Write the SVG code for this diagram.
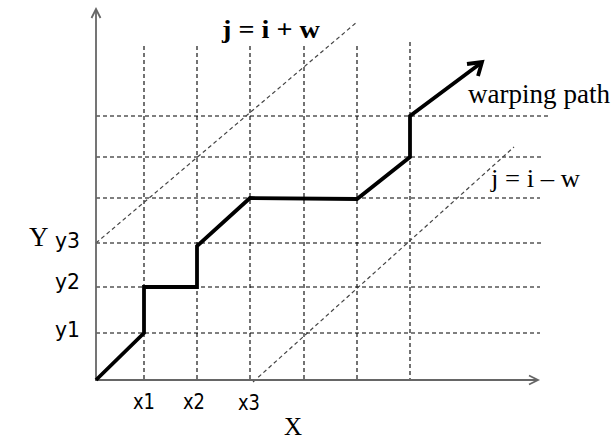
<svg xmlns="http://www.w3.org/2000/svg" width="614" height="439" viewBox="0 0 614 439">
<style>
.grid{stroke:#000;stroke-width:1.1;stroke-dasharray:4 3;fill:none}
.band{stroke:#444;stroke-width:1.2;stroke-dasharray:4 3;fill:none}
.axis{stroke:#666;stroke-width:1.8;fill:none}
.path{stroke:#000;stroke-width:3.8;fill:none;stroke-linejoin:miter}
.serif{font-family:"Liberation Serif","Times New Roman",serif;fill:#000}
.sans{font-family:"DejaVu Sans",Verdana,sans-serif;fill:#000;font-size:21px}
</style>
<rect width="614" height="439" fill="#fff"/>
<g id="grid">
<line class="grid" x1="144" y1="46" x2="144" y2="380"/>
<line class="grid" x1="197" y1="46" x2="197" y2="380"/>
<line class="grid" x1="250" y1="46" x2="250" y2="380"/>
<line class="grid" x1="304" y1="46" x2="304" y2="380"/>
<line class="grid" x1="357" y1="46" x2="357" y2="380"/>
<line class="grid" x1="410" y1="42" x2="410" y2="380"/>
<line class="grid" x1="96" y1="116" x2="549" y2="116"/>
<line class="grid" x1="96" y1="157" x2="544" y2="157"/>
<line class="grid" x1="96" y1="198" x2="540" y2="198"/>
<line class="grid" x1="96" y1="243" x2="541" y2="243"/>
<line class="grid" x1="96" y1="287" x2="540" y2="287"/>
<line class="grid" x1="96" y1="333" x2="540" y2="333"/>
</g>
<g id="bands">
<line class="band" x1="96" y1="243" x2="357" y2="22"/>
<line class="band" x1="253" y1="382" x2="514" y2="147"/>
</g>
<g id="axes">
<line class="axis" x1="96" y1="381" x2="96" y2="9"/>
<polyline class="axis" points="91.5,18 96,9 100.5,18"/>
<line class="axis" x1="95" y1="380" x2="537" y2="380"/>
<polyline class="axis" points="529,375.5 538,380 529,384.5"/>
</g>
<g id="connectors">
<polyline class="path" points="96,380 144,333 144,287 197,287 197,246 250,198 357,199 410,157 410,116 481,63"/>
<polyline class="path" points="467,64 482,62 478,76"/>
</g>
<g id="labels">
<text class="serif" x="222" y="38" font-size="26" font-weight="bold" textLength="98" lengthAdjust="spacingAndGlyphs">j = i + w</text>
<text class="serif" x="468" y="103" font-size="28" textLength="142" lengthAdjust="spacingAndGlyphs">warping path</text>
<text class="serif" x="491" y="187" font-size="25" textLength="89" lengthAdjust="spacingAndGlyphs">j = i – w</text>
<text class="serif" x="29" y="246" font-size="27">Y</text>
<text class="serif" x="284" y="435" font-size="25">X</text>
<text class="sans" x="55" y="248" textLength="25" lengthAdjust="spacingAndGlyphs">y3</text>
<text class="sans" x="55" y="289" textLength="25" lengthAdjust="spacingAndGlyphs">y2</text>
<text class="sans" x="55" y="337" textLength="25" lengthAdjust="spacingAndGlyphs">y1</text>
<text class="sans" x="133" y="409" textLength="22" lengthAdjust="spacingAndGlyphs">x1</text>
<text class="sans" x="183" y="409" textLength="22" lengthAdjust="spacingAndGlyphs">x2</text>
<text class="sans" x="238" y="410" textLength="22" lengthAdjust="spacingAndGlyphs">x3</text>
</g>
</svg>
